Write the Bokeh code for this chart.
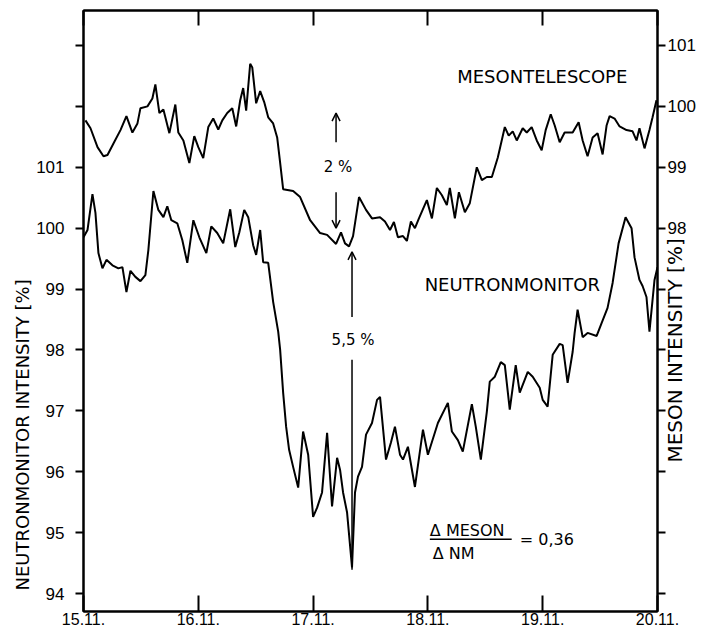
import numpy as np
from bokeh.plotting import figure
from bokeh.models import Range1d, LinearAxis, FixedTicker, Arrow, OpenHead, Label, ColumnDataSource, Title
from bokeh.embed import file_html
from bokeh.resources import INLINE

# ---- data (x in days after 15.11. 00h) ----
meson_day = [0.017, 0.061, 0.122, 0.174, 0.209, 0.261, 0.322, 0.374, 0.426, 0.470, 0.496, 0.557,
             0.600, 0.626, 0.661, 0.696, 0.748, 0.800, 0.826, 0.870, 0.922, 0.965, 1.000, 1.043,
             1.087, 1.130, 1.174, 1.209, 1.252, 1.296, 1.330, 1.365, 1.391, 1.417, 1.452, 1.470,
             1.504, 1.539, 1.574, 1.609, 1.652, 1.687, 1.713, 1.739, 1.826, 1.887, 1.974, 2.061,
             2.122, 2.200, 2.243, 2.278, 2.313, 2.348, 2.400, 2.461, 2.513, 2.583, 2.626, 2.670,
             2.704, 2.739, 2.783, 2.817, 2.852, 2.887, 2.922, 2.991, 3.035, 3.078, 3.122, 3.165,
             3.191, 3.235, 3.270, 3.322, 3.365, 3.426, 3.470, 3.513, 3.557, 3.609, 3.670, 3.704,
             3.739, 3.774, 3.826, 3.861, 3.904, 3.948, 3.991, 4.026, 4.070, 4.104, 4.148, 4.191,
             4.261, 4.313, 4.348, 4.391, 4.435, 4.478, 4.522, 4.557, 4.583, 4.626, 4.670, 4.730,
             4.783, 4.817, 4.843, 4.887, 4.930, 4.957, 4.991]
meson_pct = [99.77, 99.64, 99.33, 99.18, 99.20, 99.39, 99.61, 99.84, 99.57, 99.72, 99.97, 100.00,
             100.13, 100.36, 99.89, 99.95, 99.56, 100.03, 99.57, 99.44, 99.07, 99.51, 99.33, 99.15,
             99.66, 99.80, 99.62, 99.77, 99.89, 99.97, 99.67, 100.10, 100.30, 99.93, 100.70, 100.64,
             100.05, 100.25, 100.07, 99.82, 99.72, 99.49, 99.07, 98.64, 98.61, 98.51, 98.13, 97.92,
             97.89, 97.74, 97.93, 97.75, 97.70, 97.87, 98.51, 98.30, 98.16, 98.18, 98.11, 97.97,
             98.10, 97.85, 97.87, 97.79, 98.11, 98.00, 98.16, 98.46, 98.16, 98.66, 98.54, 98.38,
             98.66, 98.16, 98.59, 98.26, 98.41, 99.00, 98.79, 98.84, 98.84, 99.16, 99.66, 99.52,
             99.59, 99.44, 99.64, 99.57, 99.66, 99.44, 99.28, 99.61, 99.87, 99.69, 99.41, 99.57,
             99.57, 99.74, 99.44, 99.18, 99.49, 99.56, 99.21, 99.69, 99.84, 99.80, 99.67, 99.61,
             99.59, 99.44, 99.64, 99.31, 99.61, 99.82, 100.10]

nm_day = [0.000, 0.035, 0.078, 0.104, 0.130, 0.165, 0.200, 0.252, 0.304, 0.339, 0.374, 0.409,
          0.452, 0.496, 0.539, 0.565, 0.609, 0.652, 0.696, 0.730, 0.765, 0.817, 0.861, 0.904,
          0.957, 1.009, 1.070, 1.113, 1.165, 1.217, 1.278, 1.322, 1.357, 1.400, 1.435, 1.478,
          1.504, 1.539, 1.565, 1.609, 1.652, 1.696, 1.713, 1.739, 1.765, 1.791, 1.826, 1.870,
          1.913, 1.957, 2.000, 2.035, 2.078, 2.122, 2.165, 2.209, 2.235, 2.261, 2.296, 2.339,
          2.365, 2.391, 2.426, 2.461, 2.513, 2.557, 2.583, 2.635, 2.678, 2.713, 2.757, 2.783,
          2.826, 2.887, 2.957, 3.000, 3.087, 3.174, 3.209, 3.261, 3.304, 3.383, 3.417, 3.461,
          3.513, 3.539, 3.583, 3.635, 3.670, 3.713, 3.765, 3.800, 3.870, 3.913, 3.974, 4.000,
          4.043, 4.087, 4.148, 4.174, 4.217, 4.261, 4.278, 4.304, 4.348, 4.391, 4.470, 4.513,
          4.565, 4.609, 4.661, 4.722, 4.774, 4.800, 4.843, 4.870, 4.904, 4.930, 4.974, 5.000]
nm_pct = [99.85, 99.97, 100.56, 100.25, 99.59, 99.34, 99.48, 99.39, 99.34, 99.36, 98.95, 99.30,
          99.20, 99.13, 99.23, 99.64, 100.61, 100.30, 100.18, 100.36, 100.13, 100.08, 99.80, 99.43,
          100.13, 99.85, 99.59, 100.03, 99.92, 99.75, 100.31, 99.69, 99.93, 100.30, 100.18, 99.72,
          99.56, 99.97, 99.44, 99.43, 98.79, 98.30, 98.00, 97.30, 96.74, 96.36, 96.08, 95.74,
          96.66, 96.28, 95.26, 95.41, 95.66, 96.64, 95.43, 96.23, 96.03, 95.66, 95.33, 94.43,
          95.66, 95.92, 96.08, 96.61, 96.80, 97.18, 97.23, 96.20, 96.48, 96.74, 96.28, 96.20,
          96.41, 95.75, 96.69, 96.28, 96.80, 97.13, 96.66, 96.52, 96.33, 97.11, 96.74, 96.20,
          96.98, 97.48, 97.56, 97.80, 97.75, 97.02, 97.75, 97.30, 97.64, 97.56, 97.38, 97.18,
          97.07, 97.92, 98.10, 98.08, 97.46, 97.97, 98.28, 98.66, 98.21, 98.28, 98.23, 98.44,
          98.69, 99.10, 99.75, 100.18, 100.00, 99.52, 99.15, 99.05, 98.87, 98.30, 99.15, 99.36]

x_ticks = [0, 1, 2, 3, 4, 5]
x_tick_labels = ["15.11.", "16.11.", "17.11.", "18.11.", "19.11.", "20.11."]
nm_labelled = [94, 95, 96, 97, 98, 99, 100, 101]
nm_unlabelled = [102, 103]
meson_labelled = [98, 99, 100, 101]
meson_unlabelled = [92, 93, 94, 95, 96, 97]

TXT = "DejaVu Sans"
NUM = "Liberation Sans"

p = figure(width=702, height=636, output_backend="svg", toolbar_location=None,
           x_range=Range1d(0, 5), y_range=Range1d(93.705, 103.574),
           min_border_left=83, min_border_right=44, min_border_top=10, min_border_bottom=25,
           background_fill_color="white", border_fill_color="white")
p.extra_y_ranges = {"meson": Range1d(91.705, 101.574)}
p.grid.visible = False
p.outline_line_color = "black"
p.outline_line_width = 2


def style_axis(ax):
    ax.axis_line_width = 2
    ax.axis_line_color = "black"
    ax.major_tick_line_width = 2
    ax.major_tick_line_color = "black"
    ax.minor_tick_line_width = 2
    ax.minor_tick_line_color = "black"
    ax.minor_tick_in = 0
    ax.minor_tick_out = 0
    ax.major_label_text_color = "black"
    ax.major_label_text_font = NUM


# bottom axis
xb = p.xaxis[0]
style_axis(xb)
xb.ticker = FixedTicker(ticks=x_ticks)
xb.major_label_overrides = {t: l for t, l in zip(x_ticks, x_tick_labels)}
xb.major_tick_in = 16
xb.major_tick_out = 0
xb.major_label_standoff = 1
xb.major_label_text_font_size = "16px"

# top axis (ticks only, no labels)
xt = LinearAxis(ticker=FixedTicker(ticks=[], minor_ticks=x_ticks))
style_axis(xt)
xt.minor_tick_in = 15
xt.minor_tick_out = 0
xt.major_label_standoff = 0
p.add_layout(xt, "above")

# left axis
yl = p.yaxis[0]
style_axis(yl)
yl.ticker = FixedTicker(ticks=nm_labelled, minor_ticks=nm_unlabelled)
yl.major_tick_in = 0
yl.major_tick_out = 8
yl.minor_tick_out = 8
yl.major_label_standoff = 11
yl.major_label_text_font_size = "17px"

# left title
p.add_layout(Title(text="NEUTRONMONITOR INTENSITY [%]", align="left", offset=21,
                   vertical_align="middle", standoff=0, text_font=TXT, text_font_size="18px",
                   text_font_style="normal", text_color="black"), "left")

# right axis
yr = LinearAxis(y_range_name="meson", ticker=FixedTicker(ticks=meson_labelled, minor_ticks=meson_unlabelled))
style_axis(yr)
yr.major_tick_in = 0
yr.major_tick_out = 8
yr.minor_tick_out = 8
yr.major_label_standoff = 2
yr.major_label_text_font_size = "17px"
p.add_layout(yr, "right")

# right title: rotated single-tick label that starts at its tick (bottom of the title)
title_tick = 94.15
rt = LinearAxis(y_range_name="meson", ticker=FixedTicker(ticks=[title_tick]))
rt.major_label_overrides = {title_tick: "MESON INTENSITY [%]"}
rt.major_label_orientation = np.pi / 2
rt.axis_line_color = None
rt.major_tick_in = 0
rt.major_tick_out = 0
rt.minor_tick_in = 0
rt.minor_tick_out = 0
rt.major_label_standoff = -23
rt.major_label_text_font = TXT
rt.major_label_text_font_size = "20px"
rt.major_label_text_color = "black"
p.add_layout(rt, "right")

# curves
src_m = ColumnDataSource(data=dict(x=meson_day, y=meson_pct))
src_n = ColumnDataSource(data=dict(x=nm_day, y=nm_pct))
p.line("x", "y", source=src_m, y_range_name="meson", line_color="black", line_width=2)
p.line("x", "y", source=src_n, line_color="black", line_width=2)

# curve names
p.add_layout(Label(x=3.996, y=102.49, text="MESONTELESCOPE", text_align="center",
                   text_baseline="middle", text_font=TXT, text_font_size="18px", text_color="black"))
p.add_layout(Label(x=3.735, y=99.08, text="NEUTRONMONITOR", text_align="center",
                   text_baseline="middle", text_font=TXT, text_font_size="18px", text_color="black"))

# 2 % marker
p.add_layout(Label(x=2.217, y=101.0, text="2 %", text_align="center", text_baseline="middle",
                   text_font=TXT, text_font_size="15px", text_color="black"))
p.add_layout(Arrow(end=OpenHead(size=8, line_width=1.5), x_start=2.2, y_start=101.41,
                   x_end=2.2, y_end=101.89, line_width=1.5))
p.add_layout(Arrow(end=OpenHead(size=8, line_width=1.5), x_start=2.2, y_start=100.59,
                   x_end=2.2, y_end=100.0, line_width=1.5))

# 5,5 % marker
p.add_layout(Label(x=2.348, y=98.16, text="5,5 %", text_align="center", text_baseline="middle",
                   text_font=TXT, text_font_size="15px", text_color="black"))
p.add_layout(Arrow(end=OpenHead(size=8, line_width=1.5), x_start=2.339, y_start=98.54,
                   x_end=2.339, y_end=99.61, line_width=1.5))
p.add_layout(Arrow(end=None, x_start=2.339, y_start=97.84, x_end=2.339, y_end=94.39, line_width=1.5))

# ratio formula
p.add_layout(Label(x=3.017, y=95.03, text="\u0394 MESON", text_align="left", text_baseline="middle",
                   text_font=TXT, text_font_size="16px", text_color="black"))
p.add_layout(Arrow(end=None, x_start=3.017, y_start=94.89, x_end=3.73, y_end=94.89, line_width=1.5))
p.add_layout(Label(x=3.043, y=94.66, text="\u0394 NM", text_align="left", text_baseline="middle",
                   text_font=TXT, text_font_size="16px", text_color="black"))
p.add_layout(Label(x=3.80, y=94.89, text="= 0,36", text_align="left", text_baseline="middle",
                   text_font=TXT, text_font_size="16px", text_color="black"))

open("out.html", "w").write(file_html(p, INLINE))
